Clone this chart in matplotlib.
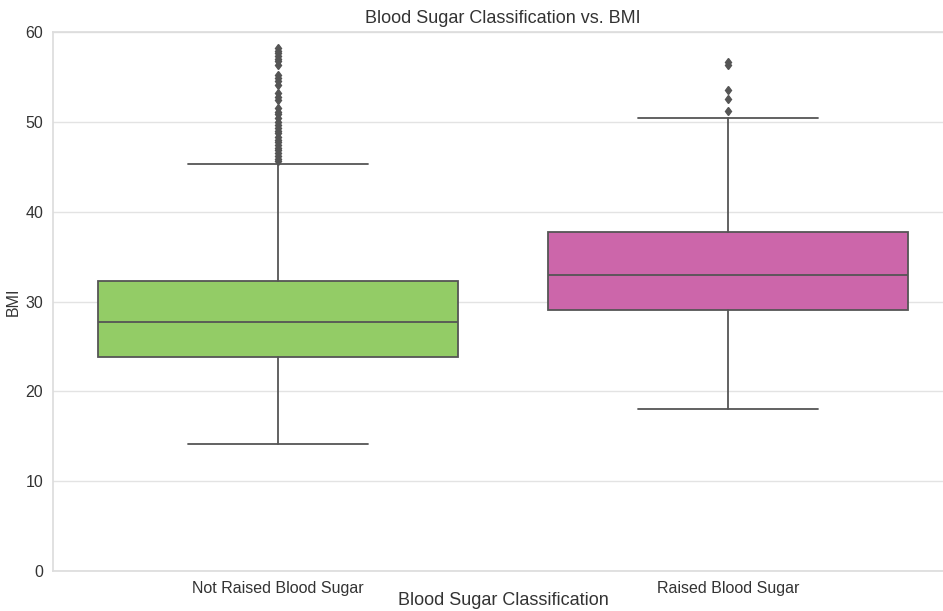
import matplotlib
matplotlib.use("Agg")
from matplotlib import pyplot as plt
import seaborn as sns

# Box statistics
categories = ["Not Raised Blood Sugar", "Raised Blood Sugar"]
q1 = [23.8, 29.1]
medians = [27.7, 33.0]
q3 = [32.3, 37.7]
whisker_low = [14.1, 18.0]
whisker_high = [45.3, 50.4]
outliers = [
    [45.6, 45.9, 46.2, 46.5, 46.8, 47.1, 47.4, 47.7, 48.0, 48.3, 48.7, 49.0,
     49.3, 49.6, 50.0, 50.4, 50.8, 51.1, 51.5, 52.4, 52.8, 53.2, 54.1, 54.5,
     54.9, 55.2, 56.3, 56.7, 57.0, 57.3, 57.6, 57.9, 58.2],
    [51.2, 52.5, 53.5, 56.3, 56.6],
]
colors = ["#93cc66", "#cc66aa"]

sns.set_theme(style="whitegrid", rc={"grid.color": "#e3e3e3", "axes.edgecolor": "#dddddd"})
plt.rcParams["font.family"] = ["Liberation Sans", "DejaVu Sans"]

fig = plt.figure(figsize=(9.43, 6.11), dpi=100)
# the right part of the plot area is cut off by the image edge
ax = fig.add_axes([0.056, 0.065, 0.955, 0.883])

stats = []
for i, name in enumerate(categories):
    stats.append({
        "label": name, "q1": q1[i], "med": medians[i], "q3": q3[i],
        "whislo": whisker_low[i], "whishi": whisker_high[i], "fliers": outliers[i],
    })

edge = "#555555"
bp = ax.bxp(stats, positions=range(len(categories)), widths=0.8, patch_artist=True,
            boxprops=dict(edgecolor=edge, linewidth=1.3),
            medianprops=dict(color=edge, linewidth=1.3),
            whiskerprops=dict(color=edge, linewidth=1.3),
            capprops=dict(color=edge, linewidth=1.3),
            flierprops=dict(marker="d", markerfacecolor=edge, markeredgecolor=edge,
                            markersize=4.5))
for patch, c in zip(bp["boxes"], colors):
    patch.set_facecolor(c)

ax.set_xlim(-0.5, 1.5)
ax.set_ylim(0, 60)
ax.set_yticks(range(0, 61, 10))
ax.grid(axis="x", visible=False)
ax.tick_params(axis="both", labelsize=11.5, colors="#333333", pad=1)
ax.set_xticks(range(len(categories)))
ax.set_xticklabels(categories, fontsize=11.5)
ax.set_ylabel("BMI", fontsize=11.5, color="#333333", labelpad=3)
ax.set_xlabel("Blood Sugar Classification", fontsize=13, color="#333333", labelpad=-3)
ax.set_title("Blood Sugar Classification vs. BMI", fontsize=13, color="#333333", pad=6)

fig.savefig("out.png", dpi=100)
plt.close(fig)
